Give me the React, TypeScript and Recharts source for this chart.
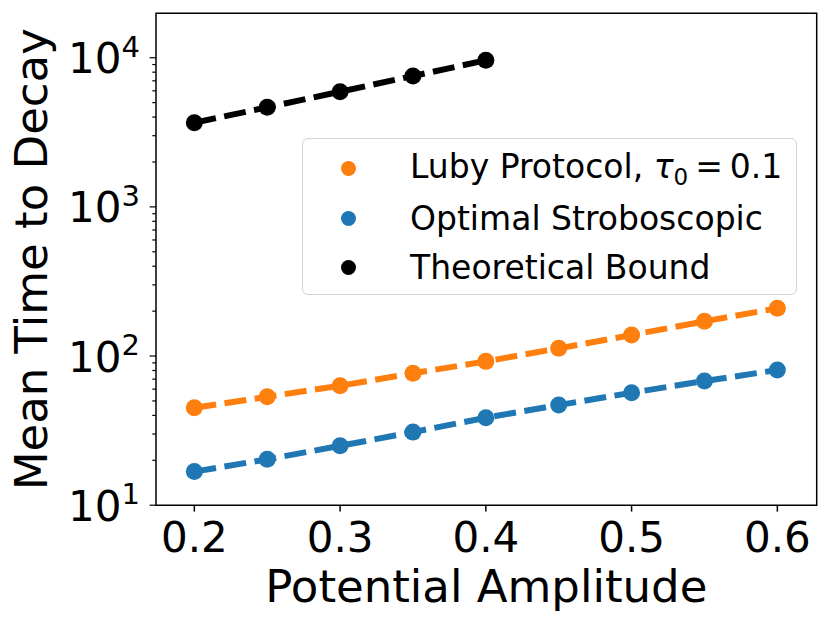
import { LineChart, Line, XAxis, YAxis, Legend, ReferenceArea } from "recharts";

const AMPLITUDE = [0.2, 0.25, 0.3, 0.35, 0.4, 0.45, 0.5, 0.55, 0.6];
const LUBY = [45.0, 53.3, 63.2, 76.6, 92.1, 112.6, 138.3, 170.9, 208.9];
const STROBOSCOPIC = [16.8, 20.3, 25.0, 30.9, 38.6, 46.9, 56.8, 68.0, 80.6];
const BOUND_AMPLITUDE = [0.2, 0.25, 0.3, 0.35, 0.4];
const BOUND = [3666, 4650, 5916, 7541, 9607];

const X_TICKS = [0.2, 0.3, 0.4, 0.5, 0.6];
const Y_MAJOR = [10, 100, 1000, 10000];
const Y_MINOR = [
  20, 30, 40, 50, 60, 70, 80, 90,
  200, 300, 400, 500, 600, 700, 800, 900,
  2000, 3000, 4000, 5000, 6000, 7000, 8000, 9000,
];
const X_DOMAIN = [0.1737, 0.627];
const Y_DOMAIN = [10, 19850];

const ORANGE = "#ff7f0e";
const BLUE = "#1f77b4";
const BLACK = "#000000";
const FONT = "'DejaVu Sans', sans-serif";

const lubyData = AMPLITUDE.map((x, i) => ({ x, y: LUBY[i] }));
const stroboData = AMPLITUDE.map((x, i) => ({ x, y: STROBOSCOPIC[i] }));
const boundData = BOUND_AMPLITUDE.map((x, i) => ({ x, y: BOUND[i] }));

const XTick = (props: any) => {
  const { x, y, payload } = props;
  return (
    <g>
      <line x1={x} y1={y} x2={x} y2={y + 6.4} stroke="#000" strokeWidth={1.5} />
      <text x={x} y={y + 46.5} textAnchor="middle" fontSize={42} fontFamily={FONT} fill="#000">
        {Number(payload.value).toFixed(1)}
      </text>
    </g>
  );
};

const YTick = (props: any) => {
  const { x, y, payload } = props;
  const exp = Math.log10(payload.value);
  const major = Math.abs(exp - Math.round(exp)) < 1e-9;
  return (
    <g>
      <line x1={x} y1={y} x2={x - (major ? 6.4 : 3.7)} y2={y} stroke="#000" strokeWidth={1.2} />
      {major && (
        <text x={x - 16} y={y + 15.5} textAnchor="end" fontSize={42} fontFamily={FONT} fill="#000">
          <tspan>10</tspan>
          <tspan dy={-16.5} fontSize={29}>{Math.round(exp)}</tspan>
        </text>
      )}
    </g>
  );
};

const YLabel = (props: any) => {
  const vb = props.viewBox || { x: 0, y: 13.3, width: 156, height: 492 };
  const cx = vb.x + 47;
  const cy = vb.y + vb.height / 2;
  return (
    <text x={cx} y={cy} transform={`rotate(-90, ${cx}, ${cy})`} textAnchor="middle" fontSize={45} fontFamily={FONT} fill="#000">
      Mean Time to Decay
    </text>
  );
};

const XLabel = (props: any) => {
  const vb = props.viewBox || { x: 156, y: 505.2, width: 660.7, height: 119.8 };
  return (
    <text x={vb.x + vb.width / 2} y={vb.y + 96.5} textAnchor="middle" fontSize={45} fontFamily={FONT} fill="#000">
      Potential Amplitude
    </text>
  );
};

const LEGEND_COLORS = [ORANGE, BLUE, BLACK];

const LegendBox = () => (
  <div
    style={{
      boxSizing: "border-box",
      width: 495,
      height: 157,
      border: "1.5px solid #d3d3d3",
      borderRadius: 6,
      background: "#fff",
      fontFamily: FONT,
      fontSize: 33,
      color: "#000",
      paddingTop: 5,
    }}
  >
    {LEGEND_COLORS.map((c, i) => (
      <div key={i} style={{ display: "flex", alignItems: "center", height: 49.5, lineHeight: "49.5px" }}>
        <span
          style={{
            display: "inline-block",
            width: 15,
            height: 15,
            borderRadius: "50%",
            background: c,
            marginLeft: 38,
            marginRight: 54,
          }}
        />
        <span style={{ whiteSpace: "nowrap" }}>
          {i === 0 && (
            <>
              Luby Protocol, <i>τ</i>
              <span style={{ fontSize: 23, position: "relative", top: 7 }}>0</span>
              <span style={{ margin: "0 7px" }}>=</span>0.1
            </>
          )}
          {i === 1 && "Optimal Stroboscopic"}
          {i === 2 && "Theoretical Bound"}
        </span>
      </div>
    ))}
  </div>
);

export default function App() {
  return (
    <div style={{ position: "absolute", left: 0, top: 0, background: "#fff" }}>
      <LineChart width={830} height={625} margin={{ top: 13.3, right: 13.3, left: 0, bottom: 0 }}>
        <XAxis
          type="number"
          dataKey="x"
          domain={X_DOMAIN}
          allowDataOverflow
          ticks={X_TICKS}
          interval={0}
          tickLine={false}
          axisLine={false}
          tickSize={0}
          tickMargin={0}
          height={119.8}
          tick={<XTick />}
          label={<XLabel />}
        />
        <YAxis
          type="number"
          scale="log"
          domain={Y_DOMAIN}
          allowDataOverflow
          ticks={[...Y_MAJOR, ...Y_MINOR]}
          interval={0}
          tickLine={false}
          axisLine={false}
          tickSize={0}
          tickMargin={0}
          width={156}
          tick={<YTick />}
          label={<YLabel />}
        />
        <ReferenceArea
          x1={X_DOMAIN[0]}
          x2={X_DOMAIN[1]}
          y1={Y_DOMAIN[0]}
          y2={Y_DOMAIN[1]}
          fill="none"
          stroke="#000"
          strokeWidth={1.5}
          ifOverflow="visible"
        />
        <Legend
          layout="horizontal"
          verticalAlign="middle"
          align="center"
          width={495}
          height={157}
          wrapperStyle={{ left: 302, top: 138, width: 495, height: 157 }}
          content={() => <LegendBox />}
        />
        <Line
          data={boundData}
          dataKey="y"
          name="Theoretical Bound"
          type="linear"
          stroke={BLACK}
          strokeWidth={6}
          strokeDasharray="22 8.5"
          dot={{ r: 8.5, fill: BLACK, strokeWidth: 0 }}
          activeDot={false}
          isAnimationActive={false}
        />
        <Line
          data={stroboData}
          dataKey="y"
          name="Optimal Stroboscopic"
          type="linear"
          stroke={BLUE}
          strokeWidth={6}
          strokeDasharray="22 8.5"
          dot={{ r: 8.5, fill: BLUE, strokeWidth: 0 }}
          activeDot={false}
          isAnimationActive={false}
        />
        <Line
          data={lubyData}
          dataKey="y"
          name="Luby Protocol"
          type="linear"
          stroke={ORANGE}
          strokeWidth={6}
          strokeDasharray="22 8.5"
          dot={{ r: 8.5, fill: ORANGE, strokeWidth: 0 }}
          activeDot={false}
          isAnimationActive={false}
        />
      </LineChart>
    </div>
  );
}
